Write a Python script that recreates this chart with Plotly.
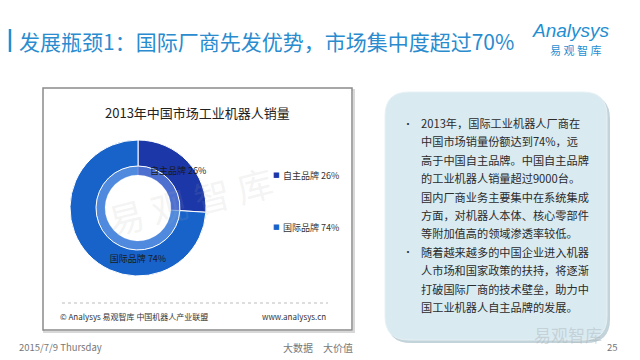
import plotly.graph_objects as go

# ---- data ----
categories = ["自主品牌", "国际品牌"]
shares = [26, 74]
slice_colors = ["#1b37a8", "#1763c9"]
ring_colors = ["#4d6fd0", "#4f8ade"]

chart_title = "2013年中国市场工业机器人销量"
page_title = "发展瓶颈1：国际厂商先发优势，市场集中度超过70%"
source_left = "© Analysys 易观智库 中国机器人产业联盟"
source_right = "www.analysys.cn"
note_lines = [
    "2013年，国际工业机器人厂商在",
    "中国市场销量份额达到74%，远",
    "高于中国自主品牌。中国自主品牌",
    "的工业机器人销量超过9000台。",
    "国内厂商业务主要集中在系统集成",
    "方面，对机器人本体、核心零部件",
    "等附加值高的领域渗透率较低。",
    "随着越来越多的中国企业进入机器",
    "人市场和国家政策的扶持，将逐渐",
    "打破国际厂商的技术壁垒，助力中",
    "国工业机器人自主品牌的发展。",
]
bullet_lines = [0, 7]

labels = [f"{c} {v}%" for c, v in zip(categories, shares)]

W, H = 640, 360
OFF = 8  # page body margin offset
FONT = "Noto Sans CJK SC"


def dom(cx, cy, r):
    cx -= OFF
    cy -= OFF
    return dict(x=[(cx - r) / W, (cx + r) / W], y=[1 - (cy + r) / H, 1 - (cy - r) / H])


fig = go.Figure()

# inner lighter ring
fig.add_trace(go.Pie(
    labels=labels, values=shares, sort=False, direction="clockwise", rotation=0,
    hole=33 / 42, domain=dom(138, 208, 42),
    marker=dict(colors=ring_colors, line=dict(color="rgba(255,255,255,0.3)", width=0.5)),
    textinfo="none", hoverinfo="skip", showlegend=False,
))
# main donut
fig.add_trace(go.Pie(
    labels=labels, values=shares, sort=False, direction="clockwise", rotation=0,
    hole=42 / 68, domain=dom(138, 208, 68),
    marker=dict(colors=slice_colors, line=dict(color="white", width=1)),
    texttemplate="%{label}", textposition="inside", insidetextorientation="horizontal",
    textfont=dict(family=FONT, size=9, color="#1a1a1a"),
    showlegend=False,
))

shapes = []
annotations = []

# title bar
shapes.append(dict(type="line", x0=10, x1=10, y0=29, y1=52, xref="x", yref="y",
                   line=dict(color="#2a8ccf", width=2.5)))
annotations.append(dict(x=17, y=41, xref="x", yref="y", text=page_title, showarrow=False,
                        xanchor="left", yanchor="middle",
                        font=dict(family=FONT, size=21, color="#2a8ccf")))
# logo
annotations.append(dict(x=571, y=30, xref="x", yref="y", text="<i>Analysys</i>", showarrow=False,
                        xanchor="center", yanchor="middle",
                        font=dict(family="Liberation Sans", size=19, color="#1f8fd2")))
annotations.append(dict(x=575, y=50, xref="x", yref="y", text="易 观 智 库", showarrow=False,
                        xanchor="center", yanchor="middle",
                        font=dict(family=FONT, size=11, color="#1f8fd2")))

# chart frame
shapes.append(dict(type="rect", x0=44, x1=354, y0=90, y1=332, xref="x", yref="y",
                   line=dict(color="#d8d8d8", width=2), fillcolor="rgba(0,0,0,0)", layer="below"))
shapes.append(dict(type="rect", x0=43, x1=352, y0=88, y1=330, xref="x", yref="y",
                   line=dict(color="#8a8a8a", width=1.5), fillcolor="white", layer="below"))
annotations.append(dict(x=197, y=112, xref="x", yref="y", text=chart_title, showarrow=False,
                        xanchor="center", yanchor="middle",
                        font=dict(family=FONT, size=13, color="#222")))
# watermark
annotations.append(dict(x=190, y=200, xref="x", yref="y", text="易 观 智 库", showarrow=False,
                        textangle=-14, xanchor="center", yanchor="middle",
                        font=dict(family=FONT, size=36, color="rgba(170,170,170,0.14)")))

# legend
for i, (lab, col) in enumerate(zip(labels, slice_colors)):
    yy = 175 + i * 52
    annotations.append(dict(x=276, y=yy, xref="x", yref="y", text="■", showarrow=False,
                            xanchor="center", yanchor="middle",
                            font=dict(family="DejaVu Sans", size=7, color=col)))
    annotations.append(dict(x=281, y=yy, xref="x", yref="y", text=lab, showarrow=False,
                            xanchor="left", yanchor="middle",
                            font=dict(family=FONT, size=9, color="#333")))

# source line
shapes.append(dict(type="line", x0=62, x1=328, y0=303, y1=303, xref="x", yref="y",
                   line=dict(color="#bcbcbc", width=1, dash="dot")))
annotations.append(dict(x=58, y=316, xref="x", yref="y", text=source_left, showarrow=False,
                        xanchor="left", yanchor="middle",
                        font=dict(family=FONT, size=8, color="#333")))
annotations.append(dict(x=328, y=316, xref="x", yref="y", text=source_right, showarrow=False,
                        xanchor="right", yanchor="middle",
                        font=dict(family=FONT, size=8, color="#333")))

# rounded note box
def rrect(x0, y0, x1, y1, r):
    return (f"M{x0+r},{y0} L{x1-r},{y0} Q{x1},{y0} {x1},{y0+r} L{x1},{y1-r} "
            f"Q{x1},{y1} {x1-r},{y1} L{x0+r},{y1} Q{x0},{y1} {x0},{y1-r} "
            f"L{x0},{y0+r} Q{x0},{y0} {x0+r},{y0} Z")

shapes.append(dict(type="path", path=rrect(387, 95, 610, 343, 24), xref="x", yref="y",
                   line=dict(width=0), fillcolor="#c3d3da", layer="below"))
shapes.append(dict(type="path", path=rrect(385, 92, 607, 340, 24), xref="x", yref="y",
                   line=dict(color="#e6f1f5", width=1), fillcolor="#d9eaf1", layer="below"))
for i, line in enumerate(note_lines):
    yy = 123 + i * 18.4
    if i in bullet_lines:
        annotations.append(dict(x=408, y=yy, xref="x", yref="y", text="•", showarrow=False,
                                xanchor="center", yanchor="middle",
                                font=dict(family=FONT, size=10, color="#333")))
    annotations.append(dict(x=419, y=yy, xref="x", yref="y", text=line, showarrow=False,
                            xanchor="left", yanchor="middle",
                            font=dict(family=FONT, size=11.2, color="#2b2b2b")))

# bottom-right watermark
annotations.append(dict(x=604, y=334, xref="x", yref="y", text="易观智库", showarrow=False,
                        xanchor="right", yanchor="middle",
                        font=dict(family=FONT, size=17, color="rgba(170,180,185,0.45)")))

# footer
annotations.append(dict(x=17, y=347, xref="x", yref="y", text="2015/7/9 Thursday", showarrow=False,
                        xanchor="left", yanchor="middle",
                        font=dict(family=FONT, size=9.5, color="#777")))
annotations.append(dict(x=355, y=347, xref="x", yref="y", text="大数据　大价值", showarrow=False,
                        xanchor="right", yanchor="middle",
                        font=dict(family=FONT, size=10, color="#777")))
annotations.append(dict(x=620, y=347, xref="x", yref="y", text="25", showarrow=False,
                        xanchor="right", yanchor="middle",
                        font=dict(family=FONT, size=9.5, color="#777")))

fig.update_layout(
    width=W, height=H, margin=dict(l=0, r=0, t=0, b=0),
    paper_bgcolor="white", plot_bgcolor="rgba(0,0,0,0)",
    xaxis=dict(range=[OFF, W + OFF], visible=False, fixedrange=True, domain=[0, 1]),
    yaxis=dict(range=[H + OFF, OFF], visible=False, fixedrange=True, domain=[0, 1]),
    shapes=shapes, annotations=annotations,
    uniformtext=dict(minsize=9, mode="show"),
    showlegend=False,
)

fig.write_html("out.html")
